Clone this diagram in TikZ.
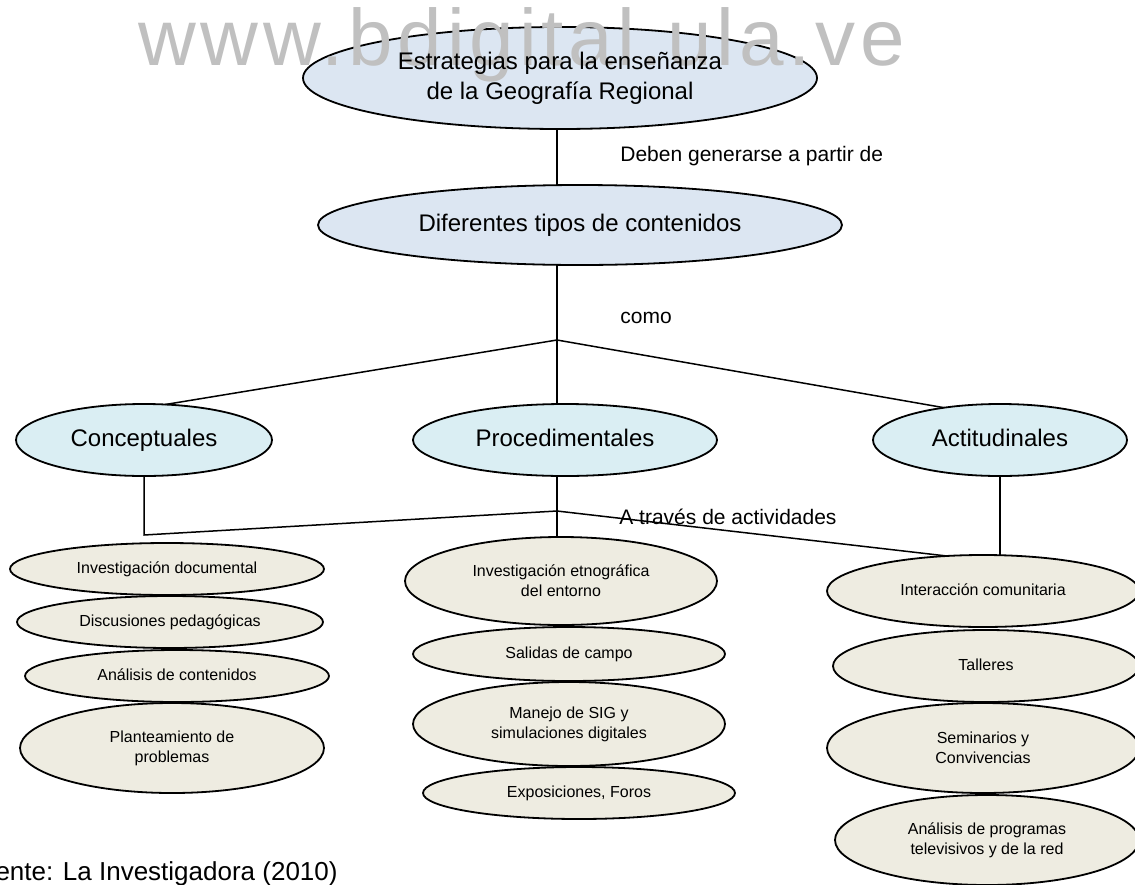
\documentclass[tikz,border=0pt]{standalone}
\usepackage{fontspec}
\setmainfont{Liberation Sans}
\usetikzlibrary{shapes.geometric,positioning}

\definecolor{topblue}{RGB}{220,230,242}
\definecolor{typeblue}{RGB}{218,238,243}
\definecolor{actbeige}{RGB}{238,236,225}
\definecolor{wmgray}{RGB}{192,192,192}

\tikzset{
  blob/.style={ellipse, draw=black, line width=0.9pt, inner sep=0pt, outer sep=0pt, align=center},
  mainblob/.style={blob, fill=topblue, font=\fontsize{12}{15}\selectfont},
  typeblob/.style={blob, fill=typeblue, font=\fontsize{12}{15}\selectfont, text height=8.6pt, text depth=2.5pt},
  actblob/.style={blob, fill=actbeige, font=\fontsize{8}{10}\selectfont},
  oneline/.style={text height=5.8pt, text depth=1.7pt},
  linklabel/.style={font=\fontsize{10.5}{13}\selectfont, inner sep=0pt, anchor=base west},
  link/.style={line width=0.75pt}
}

\begin{document}
\begin{tikzpicture}[x=0.5pt,y=-0.5pt]
  \useasboundingbox (0,0) rectangle (1135,884);

  % top of the map
  \node [mainblob, minimum width=257pt, minimum height=51pt] (est) at (560,78) {};
  \node [mainblob, minimum width=262pt, minimum height=40pt] (dif) at (580,225) {Diferentes tipos de contenidos};

  % kinds of content
  \node [typeblob, minimum width=128pt, minimum height=36pt] (con) at (144,440) {Conceptuales};
  \node [typeblob, minimum width=152pt, minimum height=36pt] (pro) at (565,440) {Procedimentales};
  \node [typeblob, minimum width=127pt, minimum height=36pt] (act) at (1000,440) {Actitudinales};

  % activities
  \node [actblob, oneline, minimum width=157pt, minimum height=26pt] (doc) at (167,569) {Investigación documental};
  \node [actblob, oneline, minimum width=153pt, minimum height=26pt] (dis) at (170,622) {Discusiones pedagógicas};
  \node [actblob, oneline, minimum width=152pt, minimum height=26pt] (ana) at (177,676) {Análisis de contenidos};
  \node [actblob, minimum width=152pt, minimum height=45pt] (pla) at (172,748) {Planteamiento de\\problemas};

  \node [actblob, minimum width=156pt, minimum height=44pt] (etn) at (561,581) {Investigación etnográfica\\del entorno};
  \node [actblob, oneline, minimum width=156pt, minimum height=27pt] (sal) at (569,654) {Salidas de campo};
  \node [actblob, minimum width=156pt, minimum height=42pt] (sig) at (569,724) {Manejo de SIG y\\simulaciones digitales};
  \node [actblob, oneline, minimum width=156pt, minimum height=26pt] (exp) at (579,793) {Exposiciones, Foros};

  \node [actblob, oneline, minimum width=156pt, minimum height=36pt] (int) at (983,591) {Interacción comunitaria};
  \node [actblob, oneline, minimum width=153pt, minimum height=36pt] (tal) at (986,666) {Talleres};
  \node [actblob, minimum width=156pt, minimum height=45pt] (sem) at (983,748) {Seminarios y\\Convivencias};
  \node [actblob, minimum width=152pt, minimum height=45pt] (prg) at (987,840) {Análisis de programas\\televisivos y de la red};

  % junctions
  \coordinate (j1) at (557,340);
  \coordinate (j2) at (557,511);
  \coordinate (c1) at (con.south |- 0,535);

  \draw [link] (est.south -| j1) -- (dif.north -| j1);
  \draw [link] (dif.south -| j1) -- (j1);
  \draw [link] (j1) -- (con.59);
  \draw [link] (j1) -- (pro.north -| j1);
  \draw [link] (j1) -- (act.150);

  \draw [link] (con.south) -- (c1) -- (j2);
  \draw [link] (pro.south -| j2) -- (j2);
  \draw [link] (j2) -- (etn.north -| j2);
  \draw [link] (j2) -- (int.136);
  \draw [link] (act.south) -- (int.north -| act.south);

  % labels on the links
  \node [linklabel] (deben) at (620,161) {Deben generarse a partir de};
  \node [linklabel] (como) at (620,323) {como};
  \node [linklabel] (atraves) at (619,524) {A través de actividades};

  \node [font=\fontsize{13}{15}\selectfont, anchor=base east, inner sep=0pt] (fuente) at (338,880) {Fuente: La Investigadora (2010)};

  % watermark, under the title text
  \node [font=\fontsize{40}{44}\selectfont\addfontfeature{LetterSpace=6}, text=wmgray, anchor=base west, inner sep=0pt] (marca) at (138,65) {www.bdigital.ula.ve};
  \node [font=\fontsize{12}{15}\selectfont, align=center, inner sep=0pt] (esttext) at (est.center) {Estrategias para la enseñanza\\de la Geografía Regional};
\end{tikzpicture}
\end{document}
